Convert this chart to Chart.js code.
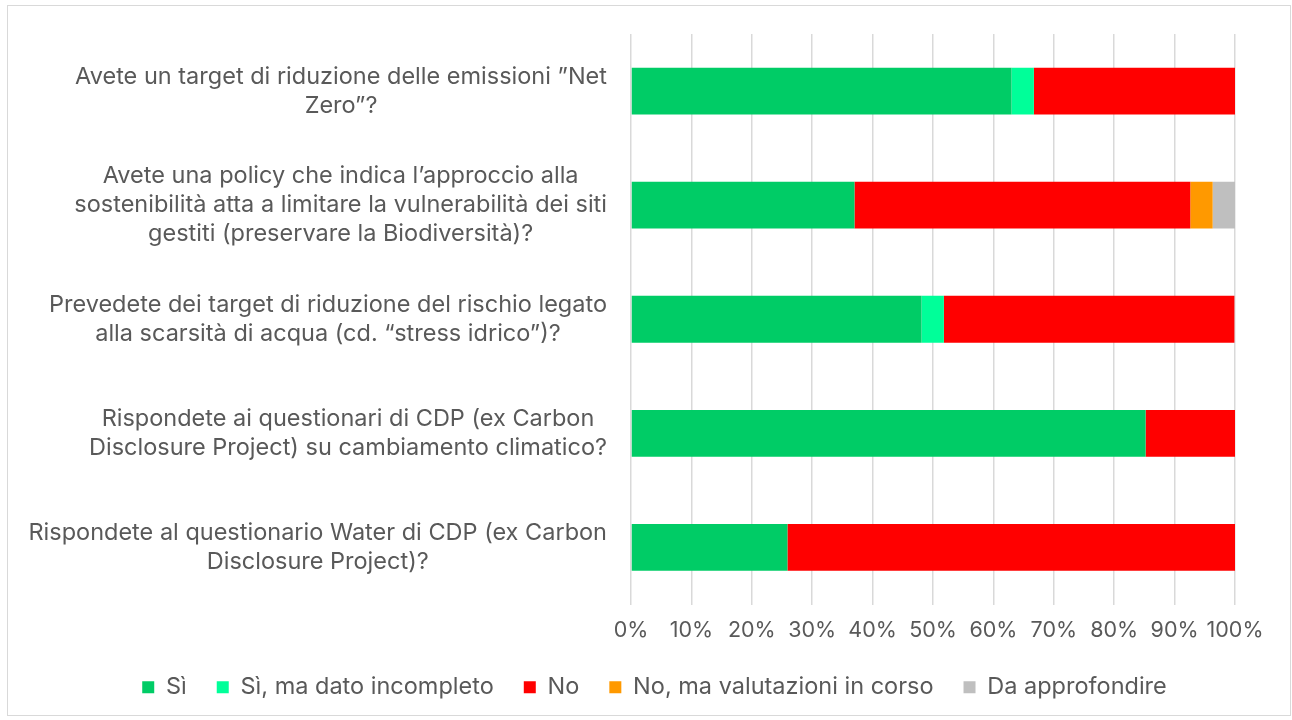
<!DOCTYPE html>
<html>
<head>
<meta charset="utf-8">
<script src="https://cdn.jsdelivr.net/npm/chart.js@4/dist/chart.umd.min.js"></script>
<style>
  html, body { margin: 0; padding: 0; background: #fff; }
  #frame { position: absolute; left: 7px; top: 5px; width: 1282px; height: 709px; border: 1px solid #d9d9d9; }
  #wrap { position: absolute; left: 0; top: 0; width: 1292px; height: 720px; }
</style>
</head>
<body>
<div id="frame"></div>
<div id="wrap"><canvas id="chart" width="1292" height="720"></canvas></div>
<script>
/* ── DATA ── */
const questions = [
  ['Avete un target di riduzione delle emissioni ”Net', 'Zero”?'],
  ['Avete una policy che indica l’approccio alla', 'sostenibilità atta a limitare la vulnerabilità dei siti', 'gestiti (preservare la Biodiversità)?'],
  ['Prevedete dei target di riduzione del rischio legato', 'alla scarsità di acqua (cd. “stress idrico”)?'],
  ['Rispondete ai questionari di CDP (ex Carbon', 'Disclosure Project) su cambiamento climatico?'],
  ['Rispondete al questionario Water di CDP (ex Carbon', 'Disclosure Project)?']
];
const si          = [63.0, 37.0, 48.1, 85.2, 25.9];
const siIncomplet = [3.7, 0, 3.7, 0, 0];
const no          = [33.3, 55.6, 48.1, 14.8, 74.1];
const noValutaz   = [0, 3.7, 0, 0, 0];
const daApprof    = [0, 3.7, 0, 0, 0];
const seriesNames = ['Sì', 'Sì, ma dato incompleto', 'No', 'No, ma valutazioni in corso', 'Da approfondire'];
const seriesColors = ['#00CC66', '#00FF99', '#FF0000', '#FF9900', '#BFBFBF'];

const FONT = 'Inter';
const TEXT = '#595959';

/* ── custom y labels: block right-aligned, lines centred ── */
const yLabels = {
  id: 'yLabels',
  afterDraw(chart) {
    const { ctx, chartArea, scales: { y } } = chart;
    ctx.save();
    ctx.font = '23.5px ' + FONT;
    ctx.fillStyle = TEXT;
    ctx.textAlign = 'center';
    ctx.textBaseline = 'middle';
    const lh = 29;
    const right = chartArea.left - 24;
    questions.forEach((lines, i) => {
      const cy = y.getPixelForTick(i);
      const w = Math.max(...lines.map(l => ctx.measureText(l).width));
      const cx = right - w / 2;
      const y0 = cy - (lines.length - 1) * lh / 2;
      lines.forEach((l, k) => ctx.fillText(l, cx, y0 + k * lh));
    });
    ctx.restore();
  }
};

const seriesData = [si, siIncomplet, no, noValutaz, daApprof];

new Chart(document.getElementById('chart'), {
  type: 'bar',
  data: {
    labels: questions,
    datasets: seriesData.map((d, i) => ({
      label: seriesNames[i],
      data: d,
      backgroundColor: seriesColors[i],
      borderWidth: 0,
      barPercentage: 0.41,
      categoryPercentage: 1,
    }))
  },
  options: {
    indexAxis: 'y',
    responsive: false,
    animation: false,
    layout: { padding: { left: 74, right: 57, top: 34, bottom: 11 } },
    plugins: {
      legend: {
        position: 'bottom',
        labels: { color: TEXT, font: { family: FONT, size: 23.5 }, boxWidth: 12, boxHeight: 12, padding: 30 }
      },
      tooltip: { enabled: false }
    },
    scales: {
      x: {
        stacked: true, min: 0, max: 100,
        ticks: {
          stepSize: 10, callback: v => v + '%', color: TEXT, font: { family: FONT, size: 21.5 },
          padding: 13, maxRotation: 0, minRotation: 0, autoSkip: false
        },
        grid: { color: '#d9d9d9', lineWidth: 1.5, drawTicks: false },
        border: { display: false },
        afterFit: s => { s.height = 41; }
      },
      y: {
        stacked: true,
        ticks: { display: false },
        grid: { display: false },
        border: { display: false },
        afterFit: s => { s.width = 557; }
      }
    }
  },
  plugins: [yLabels]
});
</script>
</body>
</html>
